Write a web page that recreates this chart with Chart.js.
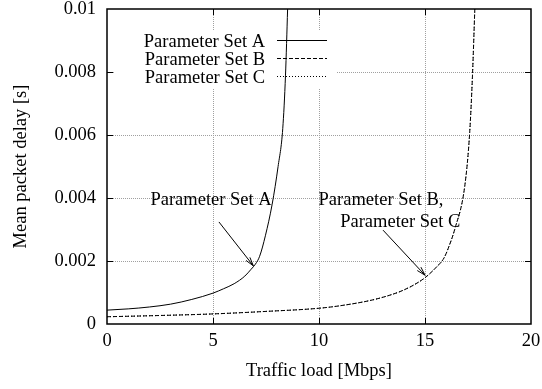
<!DOCTYPE html>
<html>
<head>
<meta charset="utf-8">
<script src="https://cdn.jsdelivr.net/npm/chart.js@4/dist/chart.umd.min.js"></script>
<style>
  html, body { margin: 0; padding: 0; background: #fff; }
  #wrap { width: 542px; height: 389px; }
</style>
</head>
<body>
<div id="wrap"><canvas id="chartCanvas" width="542" height="389"></canvas></div>
<script>
// traffic load [Mbps] and mean packet delay [s]
const loadA = [0, 1, 2, 3, 4, 5, 5.5, 6, 6.5, 6.8, 7.0, 7.2, 7.47, 7.79, 8.07, 8.29, 8.42, 8.52];
const delayA = [0.00044, 0.00048, 0.00054, 0.00063, 0.00078, 0.00098, 0.00112, 0.00128, 0.00152, 0.00174, 0.0019, 0.00215, 0.0028, 0.0038, 0.005, 0.0062, 0.0079, 0.01];

const loadB = [0, 2.5, 5, 7.5, 10, 11, 12.5, 13.5, 14, 14.5, 15, 15.5, 15.9, 16.15, 16.4, 16.88, 17.11, 17.24, 17.35];
const delayB = [0.00023, 0.00027, 0.00032, 0.0004, 0.0005, 0.00058, 0.00076, 0.00095, 0.00108, 0.00125, 0.00147, 0.00178, 0.0021, 0.0025, 0.003, 0.0044, 0.0061, 0.0079, 0.01];

const loadC = loadB.slice();
const delayC = delayB.slice();

const seriesNames = ['Parameter Set A', 'Parameter Set B', 'Parameter Set C'];
const xTicks = [0, 5, 10, 15, 20];
const yTicks = [0, 0.002, 0.004, 0.006, 0.008, 0.01];

const FONT = '"Liberation Serif", "DejaVu Serif", serif';
const FS = 18.5;

function pts(xs, ys) {
    return xs.map((x, i) => ({ x: x, y: ys[i] }));
}

const dashes = [[], [4, 2], [1, 2]];

// grid, frame, ticks, legend box and annotations in gnuplot style
const gnuplotLook = {
    id: 'gnuplotLook',
    beforeDatasetsDraw(chart) {
        const { ctx, chartArea: a, scales: { x, y } } = chart;
        ctx.save();
        ctx.strokeStyle = '#a0a0a0';
        ctx.lineWidth = 1;
        ctx.setLineDash([1, 1]);
        xTicks.slice(1, -1).forEach(v => {
            const px = Math.round(x.getPixelForValue(v)) + 0.5;
            ctx.beginPath(); ctx.moveTo(px, a.top); ctx.lineTo(px, a.bottom); ctx.stroke();
        });
        yTicks.slice(1, -1).forEach(v => {
            const py = Math.round(y.getPixelForValue(v)) + 0.5;
            ctx.beginPath(); ctx.moveTo(a.left, py); ctx.lineTo(a.right, py); ctx.stroke();
        });
        ctx.setLineDash([]);
        // legend box covers the grid
        ctx.fillStyle = '#fff';
        ctx.fillRect(a.left + 7, a.top + 22, 222, 57);
        ctx.restore();
    },
    afterDatasetsDraw(chart) {
        const { ctx, chartArea: a, scales: { x, y } } = chart;
        ctx.save();
        ctx.strokeStyle = '#000';
        ctx.lineWidth = 1;
        // ticks on all four sides
        const tl = 6;
        xTicks.slice(1, -1).forEach(v => {
            const px = Math.round(x.getPixelForValue(v)) + 0.5;
            ctx.beginPath();
            ctx.moveTo(px, a.bottom); ctx.lineTo(px, a.bottom - tl);
            ctx.moveTo(px, a.top); ctx.lineTo(px, a.top + tl);
            ctx.stroke();
        });
        yTicks.slice(1, -1).forEach(v => {
            const py = Math.round(y.getPixelForValue(v)) + 0.5;
            ctx.beginPath();
            ctx.moveTo(a.left, py); ctx.lineTo(a.left + tl, py);
            ctx.moveTo(a.right, py); ctx.lineTo(a.right - tl, py);
            ctx.stroke();
        });
        // frame
        ctx.lineWidth = 1.5;
        ctx.strokeRect(a.left, a.top, a.right - a.left, a.bottom - a.top);

        // legend
        ctx.lineWidth = 1;
        ctx.font = FS + 'px ' + FONT;
        ctx.fillStyle = '#000';
        ctx.textAlign = 'right';
        ctx.textBaseline = 'middle';
        const rows = [a.top + 33, a.top + 51, a.top + 69];
        seriesNames.forEach((name, i) => {
            ctx.fillText(name, a.left + 158, rows[i]);
            ctx.setLineDash(dashes[i]);
            ctx.beginPath();
            ctx.moveTo(a.left + 170, rows[i] - 1.5);
            ctx.lineTo(a.left + 220, rows[i] - 1.5);
            ctx.stroke();
        });
        ctx.setLineDash([]);

        // annotations
        ctx.textAlign = 'left';
        ctx.textBaseline = 'alphabetic';
        ctx.fillText('Parameter Set A', x.getPixelForValue(2.05), y.getPixelForValue(0.00378));
        ctx.fillText('Parameter Set B,', x.getPixelForValue(9.98), y.getPixelForValue(0.00378));
        ctx.fillText('Parameter Set C', x.getPixelForValue(11.0), y.getPixelForValue(0.00309));

        function arrow(x0, y0, x1, y1) {
            const px0 = x.getPixelForValue(x0), py0 = y.getPixelForValue(y0);
            const px1 = x.getPixelForValue(x1), py1 = y.getPixelForValue(y1);
            const ang = Math.atan2(py1 - py0, px1 - px0);
            const hl = 9, hw = 0.28;
            ctx.beginPath();
            ctx.moveTo(px0, py0); ctx.lineTo(px1, py1);
            ctx.moveTo(px1 - hl * Math.cos(ang - hw), py1 - hl * Math.sin(ang - hw));
            ctx.lineTo(px1, py1);
            ctx.lineTo(px1 - hl * Math.cos(ang + hw), py1 - hl * Math.sin(ang + hw));
            ctx.stroke();
        }
        arrow(5.28, 0.00324, 6.9, 0.00185);
        arrow(13.02, 0.00298, 15.0, 0.00155);
        ctx.restore();
    }
};

new Chart(document.getElementById('chartCanvas').getContext('2d'), {
    type: 'line',
    data: {
        datasets: [
            { label: seriesNames[0], data: pts(loadA, delayA) },
            { label: seriesNames[1], data: pts(loadB, delayB) },
            { label: seriesNames[2], data: pts(loadC, delayC) }
        ].map((d, i) => Object.assign(d, {
            borderColor: '#000',
            borderWidth: 1,
            borderDash: dashes[i],
            pointRadius: 0,
            fill: false,
            cubicInterpolationMode: 'monotone'
        }))
    },
    options: {
        responsive: false,
        animation: false,
        layout: { padding: { top: 9, right: 11, left: 0, bottom: 0 } },
        plugins: { legend: { display: false }, tooltip: { enabled: false } },
        scales: {
            x: {
                type: 'linear',
                min: 0,
                max: 20,
                afterBuildTicks: s => { s.ticks = xTicks.map(v => ({ value: v })); },
                afterFit: s => { s.height = 65; s.paddingLeft = 0; s.paddingRight = 0; },
                grid: { display: false, drawTicks: false },
                border: { display: false },
                ticks: { color: '#000', padding: 6, maxRotation: 0, font: { family: FONT, size: FS } },
                title: {
                    display: true,
                    text: 'Traffic load [Mbps]',
                    color: '#000',
                    font: { family: FONT, size: FS },
                    padding: { top: 0, bottom: 7 }
                }
            },
            y: {
                type: 'linear',
                min: 0,
                max: 0.01,
                afterBuildTicks: s => { s.ticks = yTicks.map(v => ({ value: v })); },
                afterFit: s => { s.width = 107; s.paddingTop = 0; s.paddingBottom = 0; },
                grid: { display: false, drawTicks: false },
                border: { display: false },
                ticks: {
                    color: '#000',
                    padding: 11,
                    font: { family: FONT, size: FS },
                    callback: v => String(+v.toFixed(3))
                },
                title: {
                    display: true,
                    text: 'Mean packet delay [s]',
                    color: '#000',
                    font: { family: FONT, size: FS },
                    padding: { top: 10, bottom: 0 }
                }
            }
        }
    },
    plugins: [gnuplotLook]
});
</script>
</body>
</html>
